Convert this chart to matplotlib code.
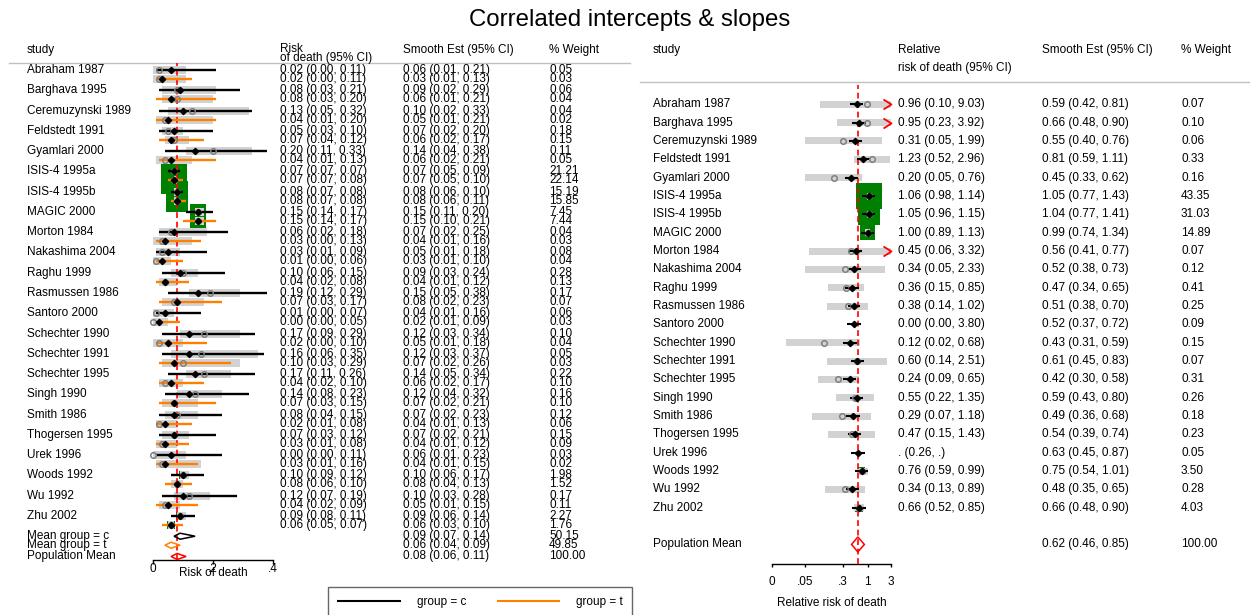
import numpy as np
import matplotlib
matplotlib.use("Agg")
import matplotlib.pyplot as plt
from matplotlib.transforms import blended_transform_factory
from matplotlib.path import Path
from matplotlib.ticker import NullLocator

plt.rcParams["font.family"] = ["Liberation Sans", "DejaVu Sans"]

# ---------------------------------------------------------------- data
studies = ["Abraham 1987", "Barghava 1995", "Ceremuzynski 1989", "Feldstedt 1991",
           "Gyamlari 2000", "ISIS-4 1995a", "ISIS-4 1995b", "MAGIC 2000",
           "Morton 1984", "Nakashima 2004", "Raghu 1999", "Rasmussen 1986",
           "Santoro 2000", "Schechter 1990", "Schechter 1991", "Schechter 1995",
           "Singh 1990", "Smith 1986", "Thogersen 1995", "Urek 1996",
           "Woods 1992", "Wu 1992", "Zhu 2002"]

# risk of death, group = c : observed and smoothed estimates, % weight
c_obs_est = [0.02, 0.08, 0.13, 0.05, 0.20, 0.07, 0.08, 0.15, 0.06, 0.03, 0.10, 0.19,
             0.01, 0.17, 0.16, 0.17, 0.14, 0.08, 0.07, 0.00, 0.10, 0.12, 0.09]
c_obs_lo = [0.00, 0.03, 0.05, 0.03, 0.11, 0.07, 0.07, 0.14, 0.02, 0.01, 0.06, 0.12,
            0.00, 0.09, 0.06, 0.11, 0.08, 0.04, 0.03, 0.00, 0.09, 0.07, 0.08]
c_obs_hi = [0.11, 0.21, 0.32, 0.10, 0.33, 0.07, 0.08, 0.17, 0.18, 0.09, 0.15, 0.29,
            0.07, 0.29, 0.35, 0.26, 0.23, 0.15, 0.12, 0.11, 0.12, 0.19, 0.11]
c_sm_est = [0.06, 0.09, 0.10, 0.07, 0.14, 0.07, 0.08, 0.15, 0.07, 0.05, 0.09, 0.15,
            0.04, 0.12, 0.12, 0.14, 0.12, 0.07, 0.07, 0.06, 0.10, 0.10, 0.09]
c_sm_lo = [0.01, 0.02, 0.02, 0.02, 0.04, 0.05, 0.06, 0.11, 0.02, 0.01, 0.03, 0.05,
           0.01, 0.03, 0.03, 0.05, 0.04, 0.02, 0.02, 0.01, 0.06, 0.03, 0.06]
c_sm_hi = [0.21, 0.29, 0.33, 0.20, 0.38, 0.09, 0.10, 0.20, 0.25, 0.18, 0.24, 0.38,
           0.16, 0.34, 0.37, 0.34, 0.32, 0.23, 0.21, 0.23, 0.17, 0.28, 0.14]
c_wt = [0.05, 0.06, 0.04, 0.18, 0.11, 21.21, 15.19, 7.45, 0.04, 0.08, 0.28, 0.17,
        0.06, 0.10, 0.05, 0.22, 0.16, 0.12, 0.15, 0.03, 1.98, 0.17, 2.27]

# risk of death, group = t
t_obs_est = [0.02, 0.08, 0.04, 0.07, 0.04, 0.07, 0.08, 0.15, 0.03, 0.01, 0.04, 0.07,
             0.00, 0.02, 0.10, 0.04, 0.07, 0.02, 0.03, 0.03, 0.08, 0.04, 0.06]
t_obs_lo = [0.00, 0.03, 0.01, 0.04, 0.01, 0.07, 0.07, 0.14, 0.00, 0.00, 0.02, 0.03,
            0.00, 0.00, 0.03, 0.02, 0.03, 0.01, 0.01, 0.01, 0.06, 0.02, 0.05]
t_obs_hi = [0.11, 0.20, 0.20, 0.12, 0.13, 0.08, 0.08, 0.17, 0.13, 0.06, 0.08, 0.17,
            0.05, 0.10, 0.29, 0.10, 0.15, 0.08, 0.08, 0.16, 0.10, 0.09, 0.07]
t_sm_est = [0.03, 0.06, 0.05, 0.06, 0.06, 0.07, 0.08, 0.15, 0.04, 0.03, 0.04, 0.08,
            0.02, 0.05, 0.07, 0.06, 0.07, 0.04, 0.04, 0.04, 0.08, 0.05, 0.06]
t_sm_lo = [0.01, 0.01, 0.01, 0.02, 0.02, 0.05, 0.06, 0.10, 0.01, 0.01, 0.01, 0.02,
           0.01, 0.01, 0.02, 0.02, 0.02, 0.01, 0.01, 0.01, 0.04, 0.01, 0.03]
t_sm_hi = [0.13, 0.21, 0.21, 0.17, 0.21, 0.10, 0.11, 0.21, 0.16, 0.10, 0.12, 0.23,
           0.09, 0.18, 0.26, 0.17, 0.21, 0.13, 0.12, 0.15, 0.13, 0.15, 0.10]
t_wt = [0.03, 0.04, 0.02, 0.15, 0.05, 22.14, 15.85, 7.44, 0.03, 0.04, 0.13, 0.07,
        0.03, 0.04, 0.03, 0.10, 0.10, 0.06, 0.09, 0.02, 1.52, 0.11, 1.76]

# group means and population mean (risk of death)
mean_labels = ["Mean group = c", "Mean group = t"]
mean_est = [0.09, 0.06]
mean_lo = [0.07, 0.04]
mean_hi = [0.14, 0.09]
mean_wt = [50.15, 49.85]
pop_est, pop_lo, pop_hi, pop_wt = 0.08, 0.06, 0.11, 100.00

# relative risk of death (t vs c)
nan = np.nan
rr_obs_est = [0.96, 0.95, 0.31, 1.23, 0.20, 1.06, 1.05, 1.00, 0.45, 0.34, 0.36, 0.38,
              0.00, 0.12, 0.60, 0.24, 0.55, 0.29, 0.47, nan, 0.76, 0.34, 0.66]
rr_obs_lo = [0.10, 0.23, 0.05, 0.52, 0.05, 0.98, 0.96, 0.89, 0.06, 0.05, 0.15, 0.14,
             0.00, 0.02, 0.14, 0.09, 0.22, 0.07, 0.15, 0.26, 0.59, 0.13, 0.52]
rr_obs_hi = [9.03, 3.92, 1.99, 2.96, 0.76, 1.14, 1.15, 1.13, 3.32, 2.33, 0.85, 1.02,
             3.80, 0.68, 2.51, 0.65, 1.35, 1.18, 1.43, nan, 0.99, 0.89, 0.85]
rr_sm_est = [0.59, 0.66, 0.55, 0.81, 0.45, 1.05, 1.04, 0.99, 0.56, 0.52, 0.47, 0.51,
             0.52, 0.43, 0.61, 0.42, 0.59, 0.49, 0.54, 0.63, 0.75, 0.48, 0.66]
rr_sm_lo = [0.42, 0.48, 0.40, 0.59, 0.33, 0.77, 0.77, 0.74, 0.41, 0.38, 0.34, 0.38,
            0.37, 0.31, 0.45, 0.30, 0.43, 0.36, 0.39, 0.45, 0.54, 0.35, 0.48]
rr_sm_hi = [0.81, 0.90, 0.76, 1.11, 0.62, 1.43, 1.41, 1.34, 0.77, 0.73, 0.65, 0.70,
            0.72, 0.59, 0.83, 0.58, 0.80, 0.68, 0.74, 0.87, 1.01, 0.65, 0.90]
rr_wt = [0.07, 0.10, 0.06, 0.33, 0.16, 43.35, 31.03, 14.89, 0.07, 0.12, 0.41, 0.25,
         0.09, 0.15, 0.07, 0.31, 0.26, 0.18, 0.23, 0.05, 3.50, 0.28, 4.03]
rr_pop_est, rr_pop_lo, rr_pop_hi, rr_pop_wt = 0.62, 0.46, 0.85, 100.00

left_ticks = [0, 0.2, 0.4]
left_ticklabels = ["0", ".2", ".4"]
right_ticks = [0.01, 0.05, 0.3, 1, 3]
right_ticklabels = ["0", ".05", ".3", "1", "3"]

# ---------------------------------------------------------------- style
ORANGE = "#ff7f00"
GREEN = "#008000"
GRAY = "#d2d2d2"
CIRCLE = "#7f7f7f"
RULE = "#c0c0c0"
FS = 8.5
W, H = 1250, 615


def fmt_ci(e, lo, hi):
    def f(v):
        return "." if not np.isfinite(v) else f"{v:.2f}"
    return f"{f(e)} ({f(lo)}, {f(hi)})"


fig = plt.figure(figsize=(W / 100, H / 100), dpi=100)
bg = fig.add_axes([0, 0, 1, 1], zorder=0)
bg.set_xlim(0, W)
bg.set_ylim(H, 0)
bg.axis("off")


def frame(x0, x1, y_top, y_bot):
    return [x0 / W, 1 - y_bot / H, (x1 - x0) / W, (y_bot - y_top) / H]


def style_axis(ax):
    for side in ("left", "right", "top"):
        ax.spines[side].set_visible(False)
    ax.spines["bottom"].set_linewidth(1.0)
    ax.set_yticks([])
    ax.patch.set_visible(False)


bg.text(630, 20, "Correlated intercepts & slopes", ha="center", va="center", fontsize=17.3)

# ================================================================ left panel
L_X0, L_X1, L_TOP, L_BOT = 153, 273.3, 63, 560
L_ROW0, L_STEP = 70, 20.27
L_SUB = 9 / L_STEP          # treated row sits just below the control row
L_BOX = 5.65                # px of box side per sqrt(% weight)
L_BAR = 8 / L_STEP

axL = fig.add_axes(frame(L_X0, L_X1, L_TOP, L_BOT), zorder=1)
axL.set_xlim(0, 0.4)
axL.set_ylim((L_BOT - L_ROW0) / L_STEP, (L_TOP - L_ROW0) / L_STEP)
style_axis(axL)
axL.set_xticks(left_ticks)
axL.set_xticklabels(left_ticklabels)
axL.tick_params(axis="x", length=3, width=1, pad=-1, labelsize=FS)
axL.set_xlabel("Risk of death", fontsize=FS)
axL.xaxis.set_label_coords(213, 573, transform=bg.transData)
axL.xaxis.label.set_va("center")

tL = blended_transform_factory(bg.transData, axL.transData)
rows = np.arange(len(studies))
groups = [
    (rows, c_obs_est, c_obs_lo, c_obs_hi, c_sm_est, c_sm_lo, c_sm_hi, c_wt, "black", "group = c"),
    (rows + L_SUB, t_obs_est, t_obs_lo, t_obs_hi, t_sm_est, t_sm_lo, t_sm_hi, t_wt, ORANGE, "group = t"),
]
for y, oe, ol, oh, se, sl, sh, wt, col, lab in groups:
    side_pt = L_BOX * np.sqrt(wt) * 0.72
    axL.scatter(se, y, s=side_pt ** 2, marker="s", color=GREEN, linewidths=0, zorder=1)
    axL.barh(y, np.subtract(oh, ol), left=ol, height=L_BAR, color=GRAY, zorder=2)
    axL.hlines(y, sl, sh, color=col, lw=1.7, zorder=4, label=lab)
    axL.plot(oe, y, "o", ls="none", ms=4, mfc="none", mec=CIRCLE, mew=1.1, zorder=5, clip_on=False)
    axL.plot(se, y, "D", ls="none", ms=3.2, color="black", zorder=6)
    for yi, a, b, c, d, e, f, w in zip(y, oe, ol, oh, se, sl, sh, wt):
        axL.text(280, yi, fmt_ci(a, b, c), transform=tL, va="center", fontsize=FS)
        axL.text(403, yi, fmt_ci(d, e, f), transform=tL, va="center", fontsize=FS)
        axL.text(549, yi, f"{w:.2f}", transform=tL, va="center", fontsize=FS)

for yi, name in zip(rows, studies):
    axL.text(27, yi, name, transform=tL, va="center", fontsize=FS)

axL.axvline(pop_est, color="red", lw=1.2, ls=(0, (3.5, 2.2)), zorder=3)

# diamonds for the group means and the population mean
mean_rows = [len(studies), len(studies) + L_SUB]
pop_row = len(studies) + 1
dh = 3 / L_STEP
for yi, e, lo, hi, w, lab, col in zip(mean_rows, mean_est, mean_lo, mean_hi, mean_wt,
                                      mean_labels, ["black", ORANGE]):
    axL.fill([lo, e, hi, e], [yi, yi - dh, yi, yi + dh], facecolor="none", edgecolor=col,
             lw=1.1, zorder=6)
    axL.text(27, yi, lab, transform=tL, va="center", fontsize=FS)
    axL.text(403, yi, fmt_ci(e, lo, hi), transform=tL, va="center", fontsize=FS)
    axL.text(549, yi, f"{w:.2f}", transform=tL, va="center", fontsize=FS)
axL.fill([pop_lo, pop_est, pop_hi, pop_est], [pop_row, pop_row - dh, pop_row, pop_row + dh],
         facecolor="none", edgecolor="red", lw=1.1, zorder=6)
axL.text(27, pop_row, "Population Mean", transform=tL, va="center", fontsize=FS)
axL.text(403, pop_row, fmt_ci(pop_est, pop_lo, pop_hi), transform=tL, va="center", fontsize=FS)
axL.text(549, pop_row, f"{pop_wt:.2f}", transform=tL, va="center", fontsize=FS)

# left headers
bg.text(27, 50, "study", va="center", fontsize=FS)
bg.text(280, 48.5, "Risk", va="center", fontsize=FS)
bg.text(280, 57.5, "of death (95% CI)", va="center", fontsize=FS)
bg.text(403, 50, "Smooth Est (95% CI)", va="center", fontsize=FS)
bg.text(549, 50, "% Weight", va="center", fontsize=FS)
bg.plot([9, 630], [62.7, 62.7], color=RULE, lw=1)

# ================================================================ right panel
R_X0, R_X1, R_TOP, R_BOT = 771.7, 890.7, 85, 564
R_ROW0, R_STEP = 104.3, 18.34
R_BOX = 3.95
R_BAR = 7 / R_STEP

axR = fig.add_axes(frame(R_X0, R_X1, R_TOP, R_BOT), zorder=1)
axR.set_xscale("log")
axR.set_xlim(right_ticks[0], right_ticks[-1])
axR.set_ylim((R_BOT - R_ROW0) / R_STEP, (R_TOP - R_ROW0) / R_STEP)
style_axis(axR)
axR.set_xticks(right_ticks)
axR.set_xticklabels(right_ticklabels)
axR.xaxis.set_minor_locator(NullLocator())
axR.tick_params(axis="x", length=2.5, width=1, pad=6, labelsize=FS)
axR.set_xlabel("Relative risk of death", fontsize=FS)
axR.xaxis.set_label_coords(831.5, 603, transform=bg.transData)
axR.xaxis.label.set_va("center")

tR = blended_transform_factory(bg.transData, axR.transData)
oe = np.array(rr_obs_est)
ol = np.array(rr_obs_lo)
oh = np.array(rr_obs_hi)
bar_ok = np.isfinite(ol) & np.isfinite(oh) & (ol > 0)
est_ok = np.isfinite(oe) & (oe > 0)
xmax = right_ticks[-1]

axR.scatter(rr_sm_est, rows, s=(R_BOX * np.sqrt(rr_wt) * 0.72) ** 2, marker="s",
            color=GREEN, linewidths=0, zorder=1)
axR.barh(rows[bar_ok], oh[bar_ok] - ol[bar_ok], left=ol[bar_ok], height=R_BAR,
         color=GRAY, zorder=2)
axR.hlines(rows, rr_sm_lo, rr_sm_hi, color="black", lw=1.5, zorder=4)
axR.plot(oe[est_ok], rows[est_ok], "o", ls="none", ms=4, mfc="none", mec=CIRCLE,
         mew=1.1, zorder=5)
axR.plot(rr_sm_est, rows, "D", ls="none", ms=3.2, color="black", zorder=6)

# open chevron marking intervals that run past the axis
chevron = Path([(-8, 5), (0, 0), (-8, -5)], [Path.MOVETO, Path.LINETO, Path.LINETO])
over = bar_ok & (oh > xmax)
axR.plot(np.full(over.sum(), xmax), rows[over], ls="none", marker=chevron, ms=11.5,
         mfc="none", mec="red", mew=1.3, zorder=6, clip_on=False)

for yi, name, a, b, c, d, e, f, w in zip(rows, studies, rr_obs_est, rr_obs_lo, rr_obs_hi,
                                          rr_sm_est, rr_sm_lo, rr_sm_hi, rr_wt):
    axR.text(653, yi, name, transform=tR, va="center", fontsize=FS)
    axR.text(898, yi, fmt_ci(a, b, c), transform=tR, va="center", fontsize=FS)
    axR.text(1042, yi, fmt_ci(d, e, f), transform=tR, va="center", fontsize=FS)
    axR.text(1181, yi, f"{w:.2f}", transform=tR, va="center", fontsize=FS)

axR.axvline(rr_pop_est, color="red", lw=1.2, ls=(0, (3.5, 2.2)), zorder=3)
rpop_row = len(studies) + 1
rdh = 7.5 / R_STEP
axR.fill([rr_pop_lo, rr_pop_est, rr_pop_hi, rr_pop_est],
         [rpop_row, rpop_row - rdh, rpop_row, rpop_row + rdh],
         facecolor="none", edgecolor="red", lw=1.1, zorder=6)
axR.text(653, rpop_row, "Population Mean", transform=tR, va="center", fontsize=FS)
axR.text(1042, rpop_row, fmt_ci(rr_pop_est, rr_pop_lo, rr_pop_hi), transform=tR,
         va="center", fontsize=FS)
axR.text(1181, rpop_row, f"{rr_pop_wt:.2f}", transform=tR, va="center", fontsize=FS)

# right headers
bg.text(653, 50, "study", va="center", fontsize=FS)
bg.text(898, 50, "Relative", va="center", fontsize=FS)
bg.text(898, 68, "risk of death (95% CI)", va="center", fontsize=FS)
bg.text(1042, 50, "Smooth Est (95% CI)", va="center", fontsize=FS)
bg.text(1181, 50, "% Weight", va="center", fontsize=FS)
bg.plot([640, 1250], [81.7, 81.7], color=RULE, lw=1)

# legend for the two groups
handles, labels = axL.get_legend_handles_labels()
leg = fig.legend(handles, labels, loc="upper left", ncol=2,
                 bbox_to_anchor=(328 / W, 1 - 587 / H), bbox_transform=fig.transFigure,
                 borderaxespad=0, fontsize=FS, frameon=True, fancybox=False,
                 edgecolor="#404040", handlelength=5.4, handletextpad=1.35,
                 columnspacing=2.6, borderpad=0.75)
leg.get_frame().set_linewidth(1.0)
for ln in leg.get_lines():
    ln.set_linewidth(1.5)

fig.savefig("out.png", dpi=100)
